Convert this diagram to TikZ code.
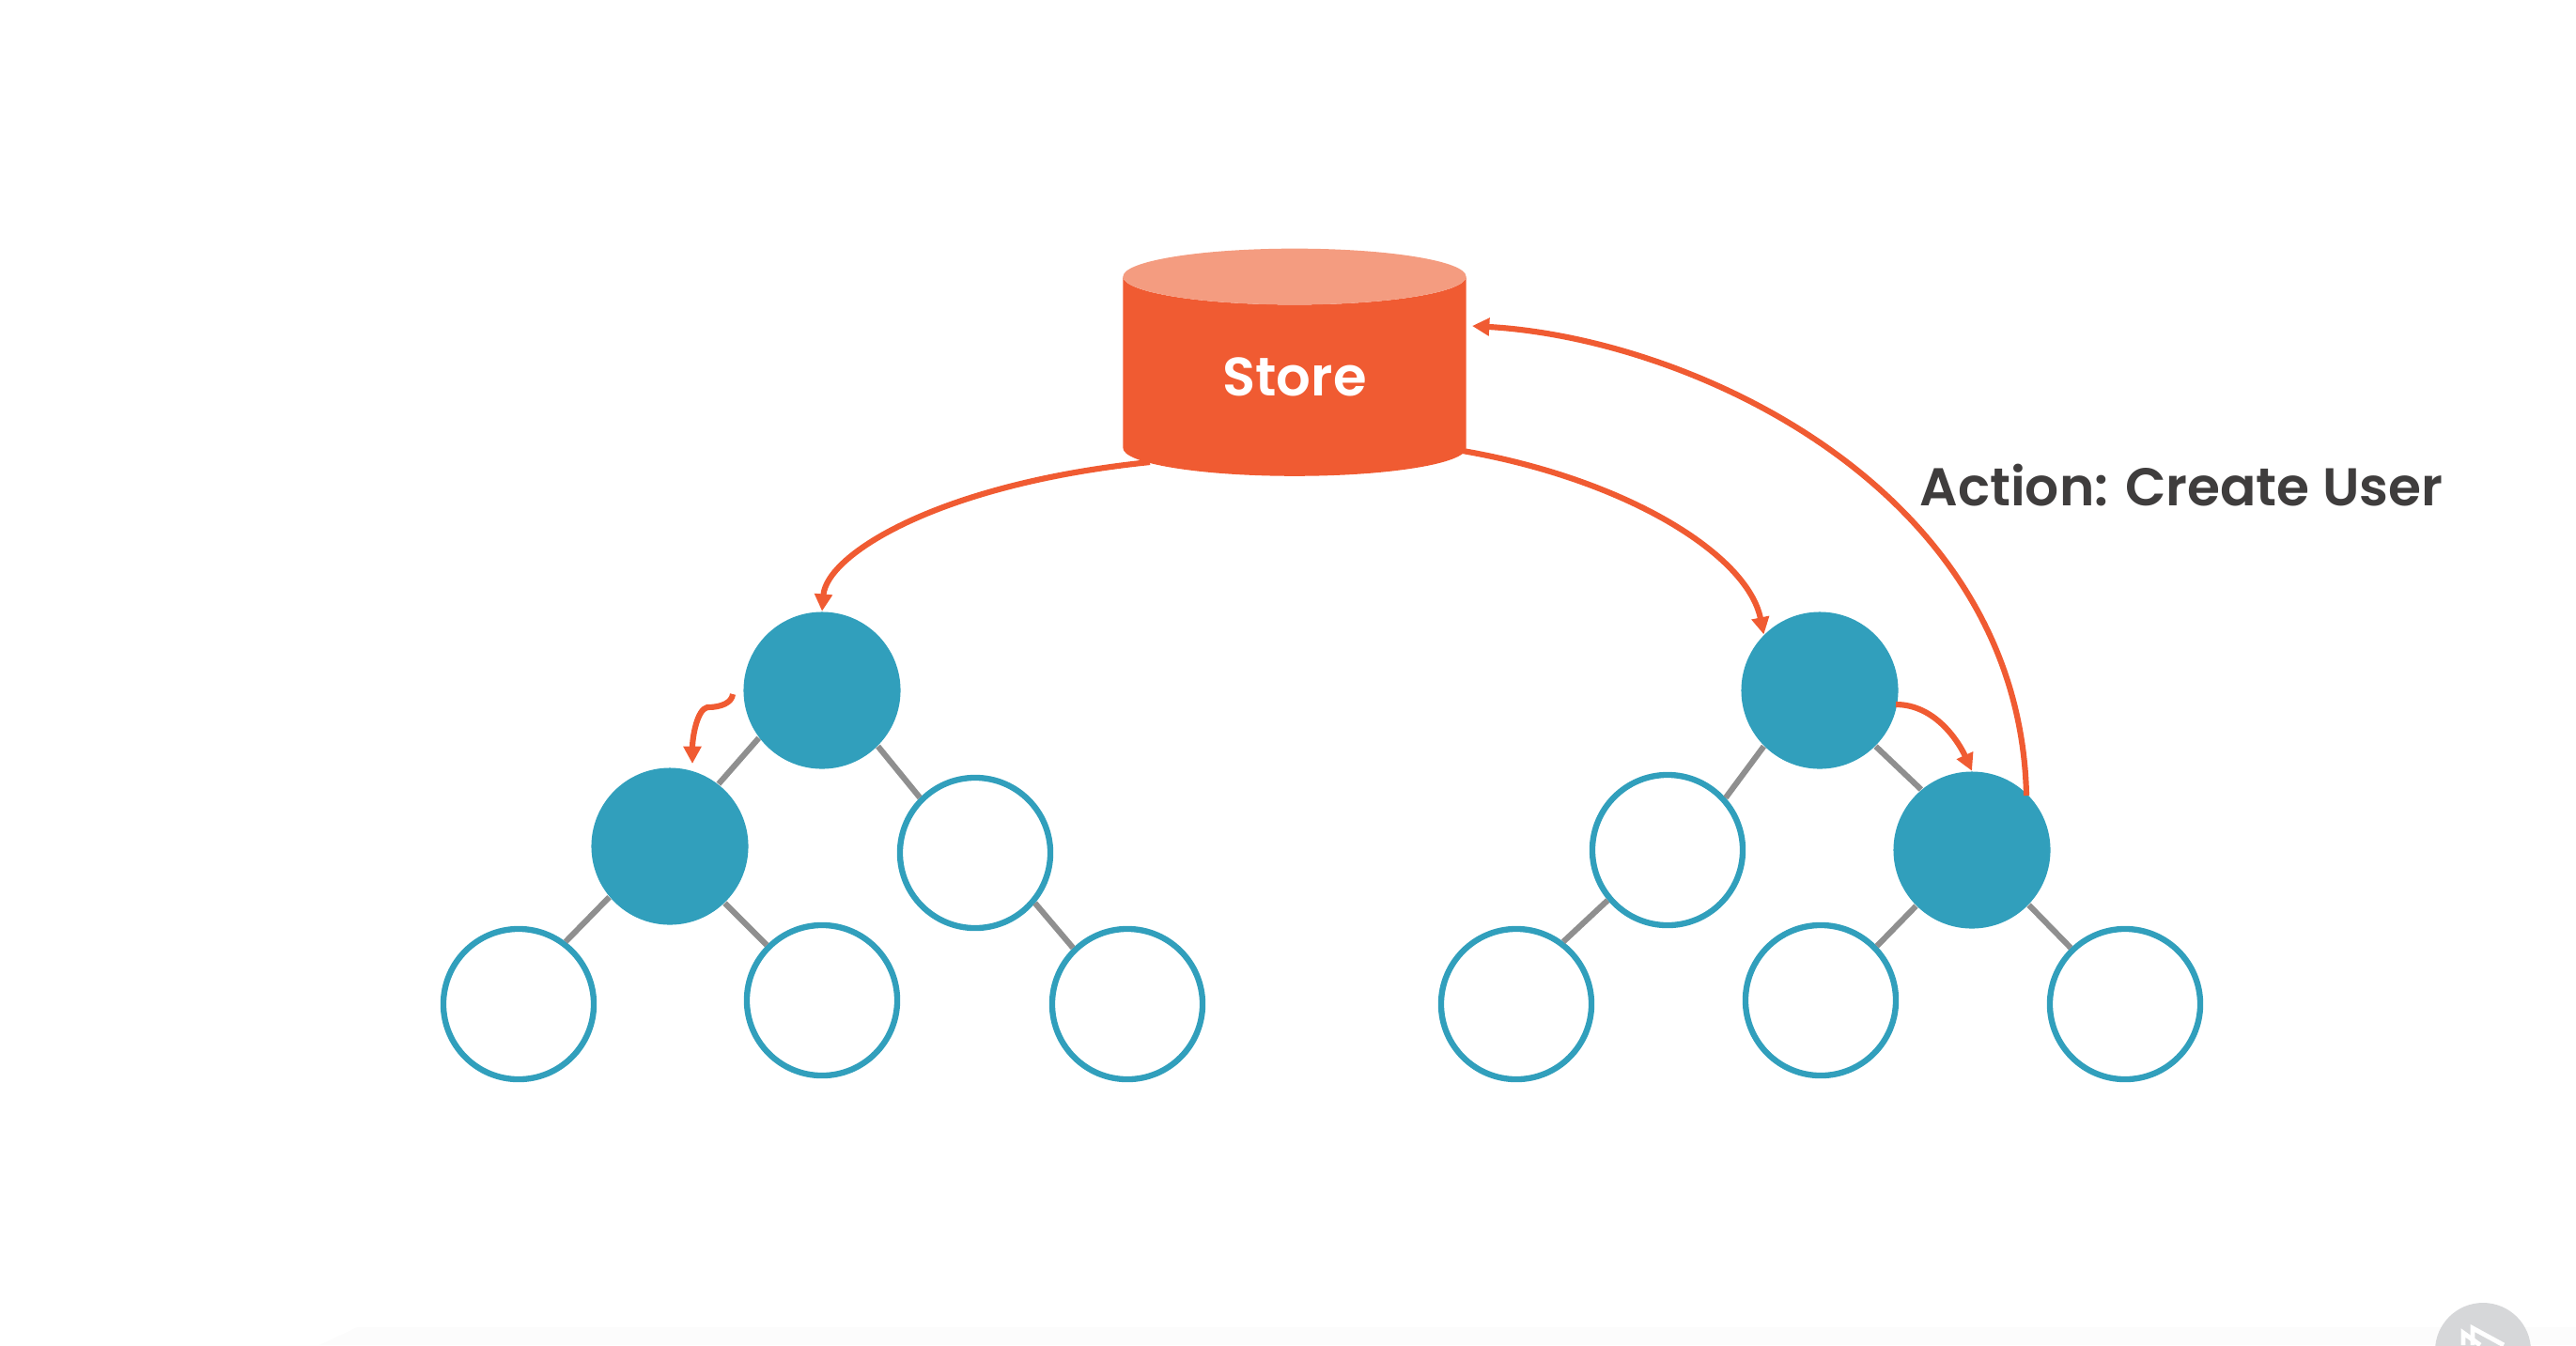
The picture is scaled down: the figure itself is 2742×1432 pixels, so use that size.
\documentclass[tikz,border=0pt]{standalone}
\usepackage{fontspec}
\usetikzlibrary{shapes.geometric,arrows.meta}
\newfontfamily\labelfont{Poppins SemiBold}
\definecolor{storeorange}{HTML}{F05B32}
\definecolor{storetop}{HTML}{F49C80}
\definecolor{treeteal}{HTML}{319FBC}
\definecolor{linkgray}{HTML}{8F8F8F}
\definecolor{labelgray}{HTML}{3F3D3D}
\definecolor{logogray}{HTML}{D6D7D9}
\definecolor{stripgray}{HTML}{FCFCFC}
\begin{document}
\begin{tikzpicture}[
                            x=0.01cm,y=-0.01cm,
                            >={Triangle[length=5.2pt,width=5.2pt]},
                            fullnode/.style={circle,fill=treeteal,minimum size=1.67cm,inner sep=0pt},
                            opennode/.style={circle,draw=treeteal,fill=white,line width=1.8pt,minimum size=1.6cm,inner sep=0pt},
                            link/.style={draw=linkgray,line width=1.75pt},
                            flow/.style={draw=storeorange,line width=1.75pt}
                        ]
                        \useasboundingbox (0,0) rectangle (2742,1432);
                        \fill [stripgray] (340,1432) -- (380,1413) -- (2742,1413) -- (2742,1432) -- cycle;

                        % Store
                        \node [shape=cylinder,shape border rotate=90,aspect=0.39,cylinder uses custom fill,cylinder body fill=storeorange,cylinder end fill=storetop,minimum width=3.65cm,minimum height=2.42cm,inner sep=0pt,text=white,font=\labelfont\fontsize{16.4}{17}\selectfont] (store) at (1378,401) {\raisebox{-2pt}{Store}};

                        % Left tree
                        \node [fullnode] (rootL) at (875,735) {};
                        \node [fullnode] (childLa) at (713,901) {};
                        \node [opennode] (childLb) at (1038,908) {};
                        \node [opennode] (leafLa) at (552,1069) {};
                        \node [opennode] (leafLb) at (875,1065) {};
                        \node [opennode] (leafLc) at (1200,1069) {};

                        % Right tree
                        \node [fullnode] (rootR) at (1937,735) {};
                        \node [opennode] (childRa) at (1775,905) {};
                        \node [fullnode] (childRb) at (2099,905) {};
                        \node [opennode] (leafRa) at (1614,1069) {};
                        \node [opennode] (leafRb) at (1938,1065) {};
                        \node [opennode] (leafRc) at (2262,1069) {};

                        % Label
                        \node [text=labelgray,font=\labelfont\fontsize{16.1}{17}\selectfont] (action) at (2322,517) {Action: Create User};

                        % Connections
                        \draw [link] (rootL.217) -- (childLa.52);
                        \draw [link] (rootL.315) -- (childLb.135);
                        \draw [link] (childLa.220) -- (leafLa.53);
                        \draw [link] (childLa.314) -- (leafLb.135);
                        \draw [link] (childLb.320) -- (leafLc.134);
                        \draw [link] (rootR.225) -- (childRa.42);
                        \draw [link] (rootR.315) -- (childRb.130);
                        \draw [link] (childRa.220) -- (leafRa.53);
                        \draw [link] (childRb.225) -- (leafRb.44);
                        \draw [link] (childRb.316) -- (leafRc.134);

                        % Flow
                        \coordinate (hopL) at (780,739);
                        \coordinate (tipL) at (737,813);
                        \coordinate (tipStore) at (1567,347);
                        \coordinate (fromStoreL) at (1224,492);
                        \coordinate (fromStoreR) at (1557,480);
                        \coordinate (fromRootR) at (2018,750);
                        \coordinate (fromChildR) at (2157,847);
                        \draw [flow,->] (fromStoreL) .. controls (1000,515) and (880,590) .. (rootL.north);
                        \draw [flow,->] (fromStoreR) .. controls (1730,510) and (1860,590) .. (rootR.135);
                        \draw [flow,->] (hopL) .. controls (779,748) and (768,753) .. (753,753) .. controls (742,755) and (737,785) .. (tipL);
                        \draw [flow,->] (fromRootR) .. controls (2060,750) and (2085,790) .. (childRb.north);
                        \draw [flow,->] (fromChildR) .. controls (2150,520) and (1800,360) .. (tipStore);

                        % Logo
                        \fill [logogray] (2643,1438) circle (51);
                        \draw [white,line width=1.4pt] (2632,1432) -- (2632,1414) -- (2665,1432);
                        \draw [white,line width=1.4pt] (2622,1432) -- (2622,1419) -- (2640,1432);
                    \end{tikzpicture}
\end{document}
